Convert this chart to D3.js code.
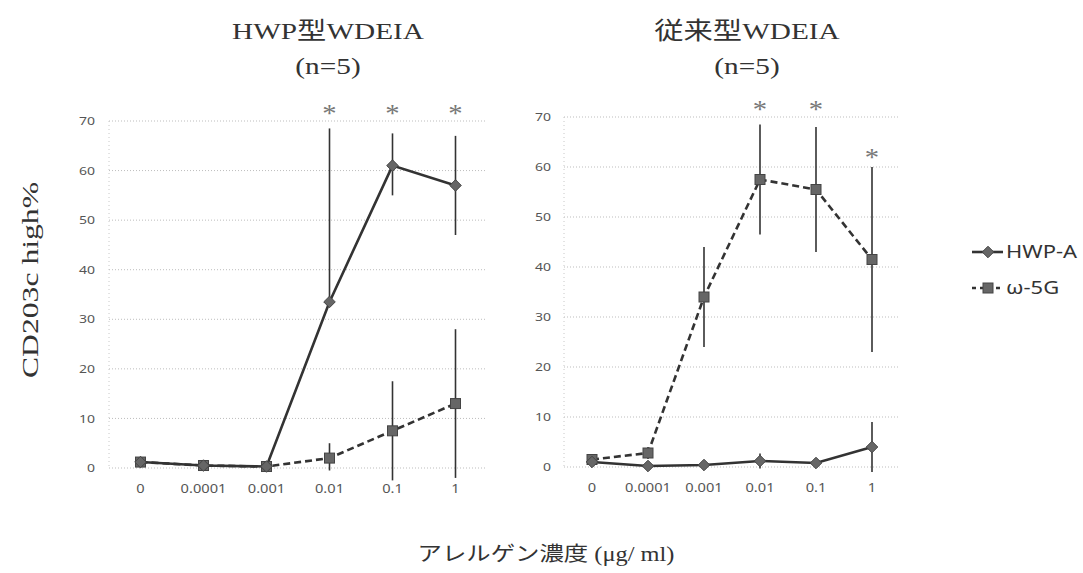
<!DOCTYPE html>
<html>
<head>
<meta charset="utf-8">
<script src="https://cdn.jsdelivr.net/npm/d3@7"></script>
<style>
	html, body { margin: 0; padding: 0; background: #fff; }
	#app { width: 1083px; height: 573px; }
</style>
</head>
<body>
<div id="app"></div>
<script>
// concentrations (µg/ml) on the x axis
const concentrations = ['0', '0.0001', '0.001', '0.01', '0.1', '1'];
const yTicks = [0, 10, 20, 30, 40, 50, 60, 70];
const seriesNames = ['HWP-A', 'ω-5G'];

// HWP型WDEIA panel
const hwpHwpA = [1.2, 0.5, 0.3, 33.5, 61, 57];
const hwpHwpAUp = [0.5, 0.3, 0.3, 35, 6.5, 10];
const hwpHwpADown = [0.5, 0.3, 0.3, 0, 6, 10];
const hwpOmega = [1.2, 0.5, 0.3, 2, 7.5, 13];
const hwpOmegaUp = [0.4, 0.3, 0.3, 3, 10, 15];
const hwpOmegaDown = [0.4, 0.3, 0.3, 2.5, 10, 15];
const hwpStars = ['0.01', '0.1', '1'];
const hwpStarLevel = [72, 72, 72];

// 従来型WDEIA panel
const convHwpA = [1, 0.2, 0.4, 1.2, 0.8, 4];
const convHwpAUp = [0.8, 0.3, 0.5, 1.5, 0.6, 5];
const convHwpADown = [0.8, 0.3, 0.5, 1.5, 0.6, 5];
const convOmega = [1.5, 2.8, 34, 57.5, 55.5, 41.5];
const convOmegaUp = [1, 1.2, 10, 11, 12.5, 18.5];
const convOmegaDown = [1, 1.2, 10, 11, 12.5, 18.5];
const convStars = ['0.01', '0.1', '1'];
const convStarLevel = [72, 72, 62.5];

const SX = 1.22; // the source figure is stretched sideways
const serif = "'Liberation Serif', 'Noto Sans CJK JP', serif";
const sans = "'Noto Sans', 'Liberation Sans', sans-serif";

const svg = d3.select('#app').append('svg')
	.attr('width', 1083)
	.attr('height', 573);

const panels = [
	{
		title: 'HWP型WDEIA', titleX: 328,
		x0: 109, x1: 487, yBottom: 468, yTop: 121, labelX: 95,
		series: [
			{ values: hwpHwpA, up: hwpHwpAUp, down: hwpHwpADown },
			{ values: hwpOmega, up: hwpOmegaUp, down: hwpOmegaDown }
		],
		stars: hwpStars, starLevel: hwpStarLevel
	},
	{
		title: '従来型WDEIA', titleX: 747,
		x0: 564, x1: 900, yBottom: 467, yTop: 117, labelX: 551,
		series: [
			{ values: convHwpA, up: convHwpAUp, down: convHwpADown },
			{ values: convOmega, up: convOmegaUp, down: convOmegaDown }
		],
		stars: convStars, starLevel: convStarLevel
	}
];

function stretchedText(g, x, y, txt, size, family, fill, anchor, sx) {
	return g.append('text')
		.attr('transform', `translate(${x},${y}) scale(${sx},1)`)
		.attr('text-anchor', anchor)
		.attr('font-family', family)
		.attr('font-size', size)
		.attr('fill', fill)
		.text(txt);
}

function marker(g, kind, cx, cy) {
	if (kind === 0) {
		g.append('path')
			.attr('d', d3.symbol(d3.symbolDiamond2, 85)())
			.attr('transform', `translate(${cx},${cy})`)
			.attr('fill', '#666').attr('stroke', '#444').attr('stroke-width', 1);
	} else {
		g.append('rect')
			.attr('x', cx - 5).attr('y', cy - 5)
			.attr('width', 10).attr('height', 10)
			.attr('fill', '#666').attr('stroke', '#444').attr('stroke-width', 1);
	}
}

panels.forEach(function (p) {
	const x = d3.scaleBand().domain(concentrations).range([p.x0, p.x1]);
	const y = d3.scaleLinear().domain([0, 70]).range([p.yBottom, p.yTop]);
	const cx = d => x(d) + x.bandwidth() / 2;
	const g = svg.append('g');

	// gridlines
	g.append('g').selectAll('line')
		.data(yTicks)
		.enter().append('line')
			.attr('x1', p.x0).attr('x2', p.x1)
			.attr('y1', d => y(d)).attr('y2', d => y(d))
			.attr('stroke', '#bdbdbd')
			.attr('stroke-dasharray', '1,2');

	g.append('line')
		.attr('x1', p.x0).attr('x2', p.x0)
		.attr('y1', y(70)).attr('y2', y(0))
		.attr('stroke', '#c8c8c8')
		.attr('stroke-dasharray', '1,3');

	// y axis labels
	const ya = g.append('g')
		.attr('transform', `translate(${p.labelX},0)`)
		.call(d3.axisLeft(y).tickValues(yTicks).tickSize(0).tickPadding(0));
	ya.select('.domain').remove();
	ya.selectAll('text')
		.attr('font-family', sans)
		.attr('font-size', 11.5)
		.attr('fill', '#555')
		.attr('transform', `scale(${SX},1)`);

	// x axis labels
	const xa = g.append('g')
		.attr('transform', `translate(0,${p.yBottom + 16})`)
		.call(d3.axisBottom(x).tickSize(0).tickPadding(0));
	xa.select('.domain').remove();
	xa.selectAll('text')
		.attr('font-family', sans)
		.attr('font-size', 12)
		.attr('fill', '#555')
		.attr('transform', `scale(${SX},1)`);

	// error bars
	p.series.forEach(function (s) {
		g.append('g').selectAll('line')
			.data(concentrations)
			.enter().append('line')
				.attr('x1', d => cx(d)).attr('x2', d => cx(d))
				.attr('y1', (d, i) => y(s.values[i] + s.up[i]))
				.attr('y2', (d, i) => y(s.values[i] - s.down[i]))
				.attr('stroke', '#333')
				.attr('stroke-width', 1.6);
	});

	// lines
	const line = d3.line()
		.x((d, i) => cx(concentrations[i]))
		.y(d => y(d));

	p.series.forEach(function (s, k) {
		g.append('path')
			.datum(s.values)
			.attr('d', line)
			.attr('fill', 'none')
			.attr('stroke', '#333')
			.attr('stroke-width', 2.6)
			.attr('stroke-dasharray', k === 1 ? '7,4' : null);
	});

	// markers, second series first so diamonds sit on top
	[1, 0].forEach(function (k) {
		const s = p.series[k];
		s.values.forEach((v, i) => marker(g, k, cx(concentrations[i]), y(v)));
	});

	// significance marks
	p.stars.forEach(function (c, i) {
		stretchedText(g, cx(c), y(p.starLevel[i]) + 11, '*', 26, serif, '#777', 'middle', 1.1);
	});

	// titles
	stretchedText(svg, p.titleX, 39, p.title, 24, serif, '#333', 'middle', SX);
	stretchedText(svg, p.titleX, 74, '(n=5)', 24, serif, '#333', 'middle', SX);
});

// y axis title
svg.append('text')
	.attr('transform', 'translate(38,280) rotate(-90) scale(1.32,1)')
	.attr('text-anchor', 'middle')
	.attr('font-family', serif)
	.attr('font-size', 24)
	.attr('fill', '#333')
	.text('CD203c high%');

// x axis title
stretchedText(svg, 546, 561, 'アレルゲン濃度 (μg/ ml)', 20, serif, '#333', 'middle', SX);

// legend
const legend = svg.append('g');
seriesNames.forEach(function (name, k) {
	const ly = 252 + k * 36;
	legend.append('line')
		.attr('x1', 972).attr('x2', 1003)
		.attr('y1', ly).attr('y2', ly)
		.attr('stroke', '#333')
		.attr('stroke-width', 2.6)
		.attr('stroke-dasharray', k === 1 ? '4,4' : null);
	marker(legend, k, 988, ly);
	stretchedText(legend, 1006, ly + 6, name, 18, sans, '#333', 'start', SX);
});
</script>
</body>
</html>
